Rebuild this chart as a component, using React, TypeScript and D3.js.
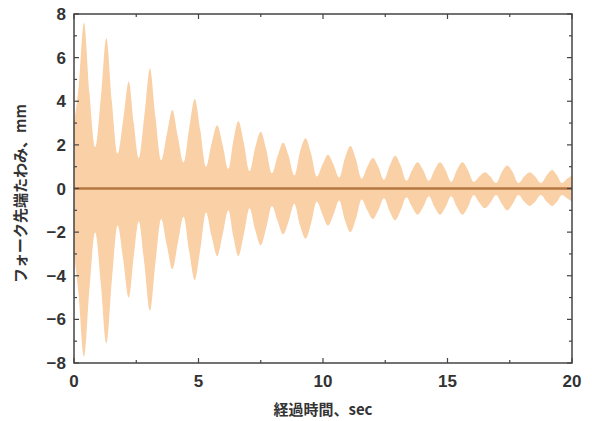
import React, { useEffect, useRef } from 'react';
import * as d3 from 'd3';

// envelope knots of the fork tip deflection: for each lobe a left shoulder, peak, right shoulder, valley
const knotTimes = [0,
  0.18, 0.4, 0.62, 0.85, 1.08, 1.3, 1.52, 1.75, 1.98, 2.2, 2.4, 2.6, 2.83, 3.05, 3.27, 3.5,
  3.73, 3.95, 4.17, 4.4, 4.63, 4.85, 5.07, 5.3, 5.53, 5.75, 5.97, 6.2, 6.4, 6.6, 6.82, 7.05,
  7.28, 7.5, 7.72, 7.95, 8.18, 8.4, 8.62, 8.85, 9.08, 9.3, 9.52, 9.75, 9.98, 10.2, 10.42, 10.65,
  10.88, 11.1, 11.32, 11.55, 11.78, 12.0, 12.22, 12.45, 12.68, 12.9, 13.12, 13.35, 13.58, 13.8, 14.02, 14.25,
  14.48, 14.7, 14.92, 15.15, 15.38, 15.6, 15.82, 16.05, 16.28, 16.5, 16.72, 16.95, 17.18, 17.4, 17.62, 17.85,
  18.08, 18.3, 18.52, 18.75, 18.98, 19.2, 19.4, 19.6, 19.8, 20];
const upperEnv = [3.0,
  4.6, 7.6, 4.4, 1.9, 4.2, 6.9, 4.0, 1.6, 3.2, 4.9, 3.0, 1.4, 3.4, 5.5, 3.3, 1.3,
  2.5, 3.6, 2.4, 1.2, 2.8, 4.1, 2.7, 1.0, 2.1, 2.9, 2.0, 0.9, 2.2, 3.1, 2.1, 0.8,
  1.9, 2.6, 1.8, 0.7, 1.5, 2.1, 1.5, 0.6, 1.7, 2.3, 1.6, 0.55, 1.1, 1.55, 1.1, 0.5,
  1.4, 1.95, 1.35, 0.45, 1.0, 1.4, 1.0, 0.4, 1.05, 1.5, 1.05, 0.35, 0.85, 1.2, 0.85, 0.35,
  0.85, 1.2, 0.85, 0.3, 0.85, 1.2, 0.85, 0.3, 0.55, 0.75, 0.55, 0.25, 0.75, 1.05, 0.75, 0.25,
  0.55, 0.75, 0.55, 0.25, 0.6, 0.85, 0.6, 0.25, 0.45, 0.6];
const lowerEnv = [-3.0,
  -4.8, -7.7, -4.6, -2.0, -4.4, -7.1, -4.2, -1.7, -3.3, -5.0, -3.1, -1.5, -3.5, -5.6, -3.4, -1.4,
  -2.6, -3.7, -2.5, -1.3, -2.9, -4.2, -2.8, -1.1, -2.2, -3.1, -2.1, -1.0, -2.2, -3.1, -2.1, -0.9,
  -1.9, -2.6, -1.8, -0.8, -1.5, -2.1, -1.5, -0.7, -1.7, -2.3, -1.6, -0.6, -1.2, -1.7, -1.2, -0.55,
  -1.45, -2.0, -1.4, -0.5, -1.0, -1.4, -1.0, -0.45, -1.05, -1.45, -1.0, -0.4, -0.85, -1.2, -0.85, -0.35,
  -0.85, -1.2, -0.85, -0.35, -0.85, -1.2, -0.85, -0.3, -0.65, -0.9, -0.65, -0.3, -0.7, -1.0, -0.7, -0.3,
  -0.6, -0.8, -0.6, -0.3, -0.6, -0.8, -0.6, -0.3, -0.45, -0.6];

const xTicks = [0, 5, 10, 15, 20];
const xMinor = [2.5, 7.5, 12.5, 17.5];
const yTicks = [-8, -6, -4, -2, 0, 2, 4, 6, 8];
const yMinor = [-7, -5, -3, -1, 1, 3, 5, 7];
const xTitle = '経過時間、sec';
const yTitle = 'フォーク先端たわみ、mm';

const W = 592, H = 421;
const m = { left: 74, top: 14, right: 20, bottom: 58 };
const cjk = '"Noto Sans CJK JP", "Noto Sans", sans-serif';
const num = '"Liberation Sans", Arial, sans-serif';

const App = () => {
  const ref = useRef<SVGSVGElement>(null);

  useEffect(() => {
    const svg = d3.select(ref.current);
    svg.selectAll('*').remove();
    const iw = W - m.left - m.right;
    const ih = H - m.top - m.bottom;
    const x = d3.scaleLinear().domain([0, 20]).range([m.left, m.left + iw]);
    const y = d3.scaleLinear().domain([-8, 8]).range([m.top + ih, m.top]);

    const pts = knotTimes.map((t, i) => ({ t, hi: upperEnv[i], lo: lowerEnv[i] }));
    const area = d3.area<any>()
      .x(d => x(d.t))
      .y0(d => y(d.lo))
      .y1(d => y(d.hi))
      .curve(d3.curveMonotoneX);

    svg.append('path')
      .datum(pts)
      .attr('d', area)
      .attr('fill', 'rgb(250,208,166)');

    // zero line
    svg.append('line')
      .attr('x1', x(0)).attr('x2', x(20))
      .attr('y1', y(0)).attr('y2', y(0))
      .attr('stroke', '#b5763f').attr('stroke-width', 2.5);

    // frame
    svg.append('rect')
      .attr('x', x(0)).attr('y', y(8))
      .attr('width', iw).attr('height', ih)
      .attr('fill', 'none').attr('stroke', '#444').attr('stroke-width', 1.5);

    const tk = svg.append('g').attr('stroke', '#444').attr('stroke-width', 1.2);
    const xt = (v: number, len: number) => {
      tk.append('line').attr('x1', x(v)).attr('x2', x(v)).attr('y1', y(-8)).attr('y2', y(-8) - len);
      tk.append('line').attr('x1', x(v)).attr('x2', x(v)).attr('y1', y(8)).attr('y2', y(8) + len);
    };
    const yt = (v: number, len: number) => {
      tk.append('line').attr('x1', x(0)).attr('x2', x(0) + len).attr('y1', y(v)).attr('y2', y(v));
      tk.append('line').attr('x1', x(20)).attr('x2', x(20) - len).attr('y1', y(v)).attr('y2', y(v));
    };
    xTicks.forEach(v => xt(v, 5));
    xMinor.forEach(v => xt(v, 3));
    yTicks.forEach(v => yt(v, 5));
    yMinor.forEach(v => yt(v, 3));

    svg.append('g').selectAll('text').data(xTicks).join('text')
      .attr('x', d => x(d)).attr('y', y(-8) + 24)
      .attr('text-anchor', 'middle')
      .attr('font-family', num).attr('font-size', 17).attr('font-weight', 700).attr('fill', '#333')
      .text(d => String(d));

    svg.append('g').selectAll('text').data(yTicks).join('text')
      .attr('x', x(0) - 8).attr('y', d => y(d)).attr('dy', '0.36em')
      .attr('text-anchor', 'end')
      .attr('font-family', num).attr('font-size', 17).attr('font-weight', 700).attr('fill', '#333')
      .text(d => (d < 0 ? '−' + Math.abs(d) : String(d)));

    svg.append('text')
      .attr('x', (x(0) + x(20)) / 2).attr('y', H - 6)
      .attr('text-anchor', 'middle')
      .attr('font-family', cjk).attr('font-size', 15).attr('font-weight', 700).attr('fill', '#333')
      .text(xTitle);

    svg.append('text')
      .attr('transform', `translate(26,${y(0) + 5}) rotate(-90)`)
      .attr('text-anchor', 'middle')
      .attr('font-family', cjk).attr('font-size', 15).attr('font-weight', 700).attr('fill', '#333')
      .text(yTitle);
  }, []);

  return (
    <svg ref={ref} width={W} height={H}
      style={{ position: 'absolute', left: 0, top: 0, background: '#fff' }} />
  );
};

export default App;
